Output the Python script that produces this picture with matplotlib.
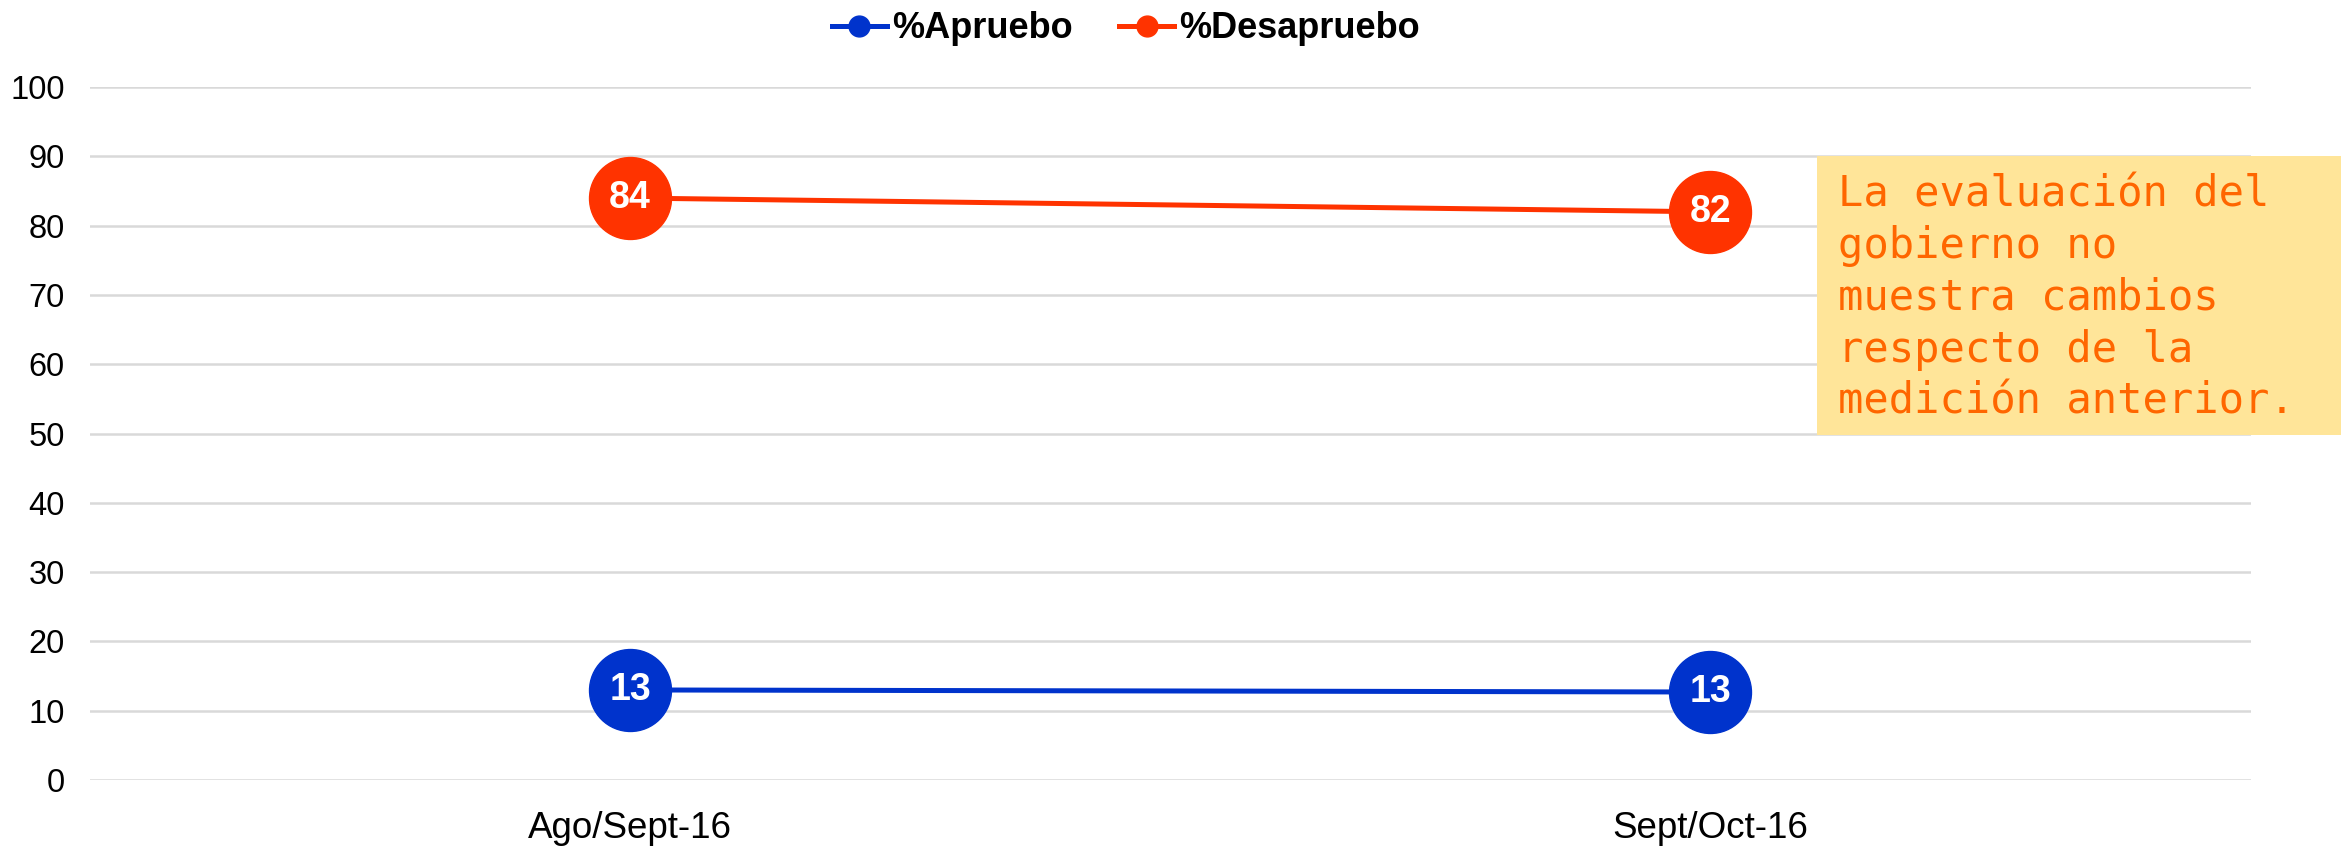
import matplotlib.pyplot as plt
from matplotlib.patches import Rectangle
from matplotlib.lines import Line2D

categorias = ["Ago/Sept-16", "Sept/Oct-16"]
apruebo = [13, 12.7]
desapruebo = [84, 82]
series_nombres = ["%Apruebo", "%Desapruebo"]
y_ticks = [0, 10, 20, 30, 40, 50, 60, 70, 80, 90, 100]
nota = "La evaluación del\ngobierno no\nmuestra cambios\nrespecto de la\nmedición anterior."

azul = "#0033CC"
rojo = "#FF3300"

plt.rcParams['font.family'] = ['Liberation Sans', 'DejaVu Sans']

fig = plt.figure(figsize=(23.41, 8.46), dpi=100)
ax = fig.add_axes([0.0384, 0.078, 0.9230, 0.819])

x = list(range(len(categorias)))
for vals, col in [(apruebo, azul), (desapruebo, rojo)]:
    ax.plot(x, vals, color=col, lw=3.6, marker="o", ms=59, mec=col, mfc=col, zorder=3)
    for xi, v in zip(x, vals):
        ax.text(xi, v, str(int(round(v))), color="white", fontsize=27, fontweight="bold",
                ha="center", va="center", zorder=4)

ax.set_xlim(-0.5, 1.5)
ax.set_ylim(0, 100)
ax.set_yticks(y_ticks)
ax.set_xticks(x)
ax.set_xticklabels(categorias)
ax.yaxis.grid(True, color="#D9D9D9", lw=1.8)
ax.set_axisbelow(True)
for s in ax.spines.values():
    s.set_visible(False)
ax.tick_params(axis="y", length=0, pad=18, labelsize=23.5)
ax.tick_params(axis="x", length=0, pad=22, labelsize=26.5)

handles = [Line2D([], [], color=azul, lw=3.6, marker="o", ms=15),
           Line2D([], [], color=rojo, lw=3.6, marker="o", ms=15)]
fig.legend(handles, series_nombres, loc="center", bbox_to_anchor=(0.481, 0.966), ncol=2,
           frameon=False, handlelength=1.5, handletextpad=0.15, columnspacing=1.3,
           prop={"weight": "bold", "size": 26})

# cuadro de nota
fig.patches.append(Rectangle((1817 / 2341, 1 - 435 / 846), (2341 - 1817) / 2341, (435 - 156) / 846,
                             transform=fig.transFigure, facecolor="#FFE599", edgecolor="none", zorder=5))
fig.text(1838 / 2341, 1 - 298 / 846, nota, color="#FF6600", fontsize=30.3, family="DejaVu Sans Mono",
         va="center", ha="left", linespacing=1.3, zorder=6)

fig.savefig("out.png", dpi=100)
